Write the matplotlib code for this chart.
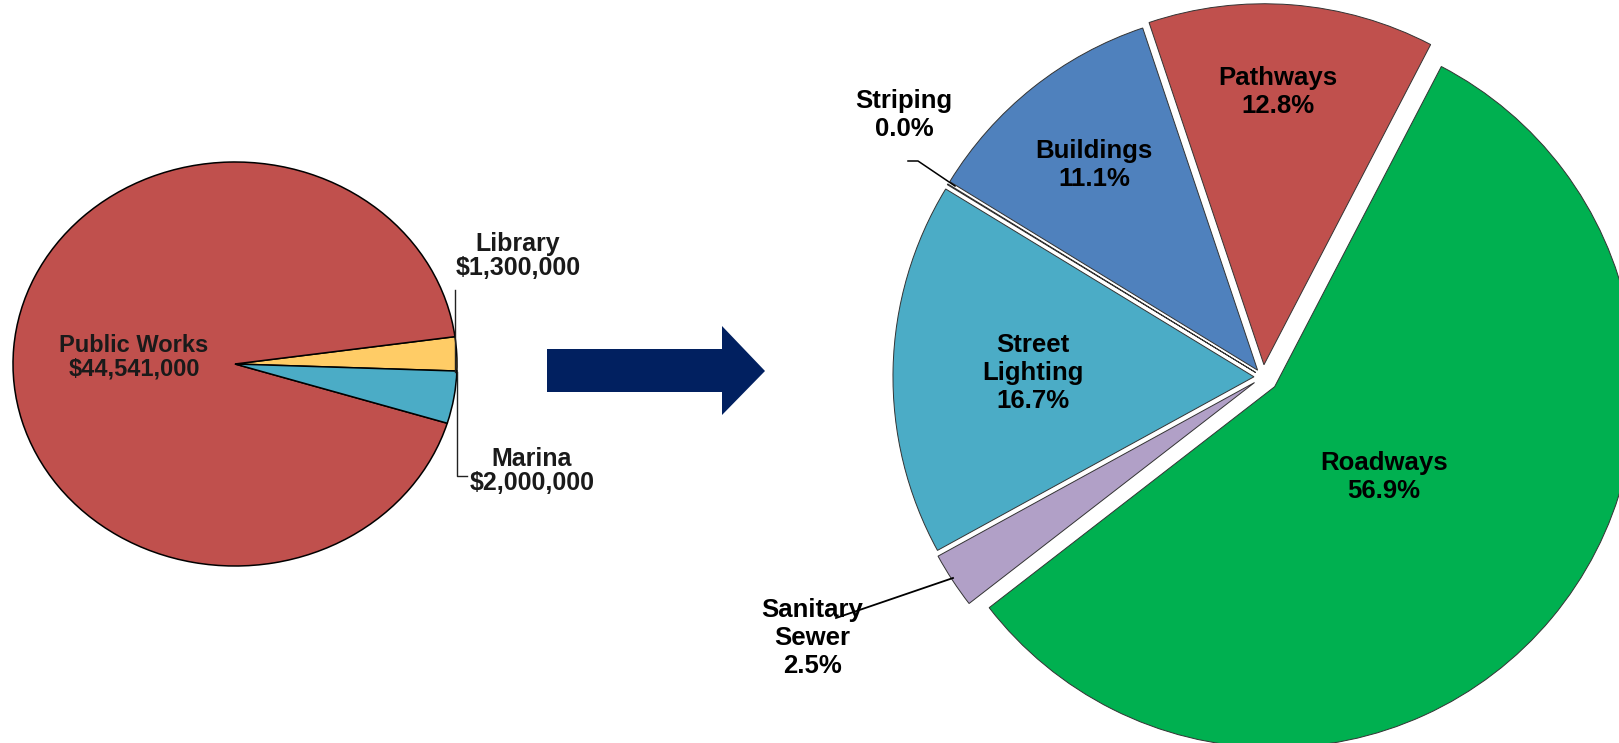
import matplotlib
matplotlib.use("Agg")
import matplotlib.pyplot as plt
from matplotlib.patches import Polygon

plt.rcParams['font.family'] = ['Liberation Sans', 'DejaVu Sans']

# Department budget split (left pie)
dept_names = ["Library", "Public Works", "Marina"]
dept_amounts = [1300000, 44541000, 2000000]
dept_colors = ["#FFCC66", "#C0504D", "#4BACC6"]

# Public Works breakdown (right pie), percent of total
pw_names = ["Pathways", "Buildings", "Striping", "Street\nLighting", "Sanitary\nSewer", "Roadways"]
pw_share = [12.8, 11.1, 0.04, 16.7, 2.5, 56.9]
pw_colors = ["#C0504D", "#4F81BD", "#FFFFFF", "#4BACC6", "#B1A0C7", "#00B050"]
# slice offsets as a fraction of the pie radius
pw_explode = [0.034, 0.024, 0.024, 0.025, 0.028, 0.042]

W, H = 1619, 743
fig = plt.figure(figsize=(W / 100, H / 100), dpi=100)
fig.patch.set_facecolor("white")

# ---- left pie: drawn in its own axes so it can be stretched into an ellipse
cx_l, cy_l, rx_l, ry_l = 235, 364, 222, 202   # pixel geometry (image y down)
ax_l = fig.add_axes([(cx_l - rx_l) / W, (H - cy_l - ry_l) / H, 2 * rx_l / W, 2 * ry_l / H])
ax_l.pie(dept_amounts, colors=dept_colors, startangle=-2, counterclock=True,
         radius=1.0, wedgeprops=dict(edgecolor="black", linewidth=1.1))
ax_l.set_aspect("auto")
ax_l.set_xlim(-1, 1)
ax_l.set_ylim(-1, 1)
ax_l.axis("off")

# ---- overlay axes in pixel units (y up) for the right pie, arrow and labels
ax = fig.add_axes([0, 0, 1, 1])
ax.set_xlim(0, W)
ax.set_ylim(0, H)
ax.patch.set_alpha(0)
ax.axis("off")


def Y(y_img):
    return H - y_img


left_txt = dict(ha="center", va="center", fontsize=18, fontweight="bold",
                color="#1a1a1a", linespacing=1.0)
ax.text(134, Y(357), f"{dept_names[1]}\n${dept_amounts[1]:,}", fontsize=17,
        ha="center", va="center", fontweight="bold", color="#1a1a1a", linespacing=1.02)
ax.text(518, Y(256), f"{dept_names[0]}\n${dept_amounts[0]:,}", **left_txt)
ax.text(532, Y(471), f"{dept_names[2]}\n${dept_amounts[2]:,}", **left_txt)

# leader lines for the small department slices
ax.plot([455, 455], [Y(290), Y(372)], color="#222222", lw=1.0)
ax.plot([457, 457, 467], [Y(372), Y(476), Y(476)], color="#222222", lw=1.0)

# arrow between the two pies
arrow = Polygon([(547, Y(349)), (722, Y(349)), (722, Y(326)), (765, Y(371)),
                 (722, Y(415)), (722, Y(392)), (547, Y(392))],
                closed=True, facecolor="#012060", edgecolor="none")
ax.add_patch(arrow)

# right pie (explode distances are in data units, i.e. pixels here)
cx_r, cy_r, r_r = 1263, Y(377), 361
ax.pie(pw_share, colors=pw_colors, explode=[e * r_r for e in pw_explode],
       startangle=62.5, counterclock=True, radius=r_r, center=(cx_r, cy_r),
       wedgeprops=dict(edgecolor="#333333", linewidth=0.7))
ax.set_aspect("auto")
ax.set_xlim(0, W)
ax.set_ylim(0, H)

right_txt = dict(ha="center", va="center", fontsize=18.5, fontweight="bold",
                 color="black", linespacing=1.2)
label_pos = {
    "Pathways": (1278, 92),
    "Buildings": (1094, 165),
    "Striping": (904, 115),
    "Street\nLighting": (1033, 373),
    "Sanitary\nSewer": (812, 638),
    "Roadways": (1384, 477),
}
for name, share in zip(pw_names, pw_share):
    x, y = label_pos[name]
    ax.text(x, Y(y), f"{name}\n{share:.1f}%", **right_txt)

# leader lines for the thin slices
ax.plot([908, 918, 955], [Y(161), Y(161), Y(186)], color="black", lw=1.1)
ax.plot([953, 836], [Y(578), Y(618)], color="black", lw=1.3)

fig.savefig("out.png", dpi=100, facecolor="white")
